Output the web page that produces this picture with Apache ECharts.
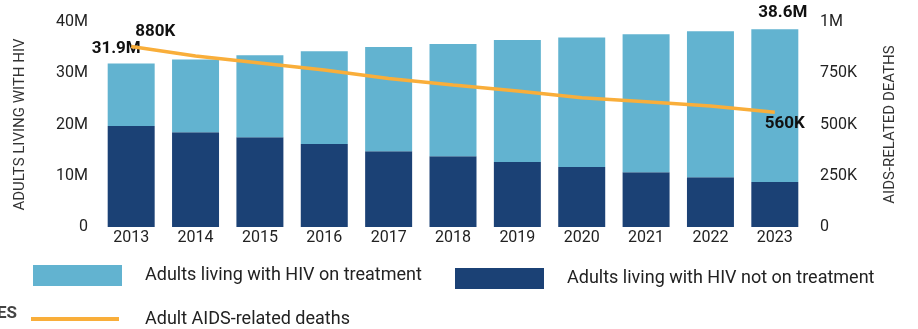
<!DOCTYPE html>
<html>
<head>
<meta charset="utf-8">
<script src="https://cdn.jsdelivr.net/npm/echarts@6/dist/echarts.min.js"></script>
<style>html,body{margin:0;padding:0;background:#fff}#c{width:918px;height:329px}</style>
</head>
<body>
<div id="c"></div>
<script>
const years = ['2013','2014','2015','2016','2017','2018','2019','2020','2021','2022','2023'];
const notOnTreatment = [19.7, 18.5, 17.5, 16.2, 14.8, 13.8, 12.7, 11.7, 10.7, 9.7, 8.8];
const onTreatment = [12.2, 14.2, 16.0, 18.1, 20.3, 21.9, 23.8, 25.3, 26.9, 28.5, 29.8];
const deaths = [880, 834, 800, 766, 724, 693, 663, 631, 611, 590, 560];
const leftTicks = ['0','10M','20M','30M','40M'];
const rightTicks = ['0','250K','500K','750K','1M'];

const FONT = 'Roboto';
const totals = onTreatment.map((v,i)=> +(v + notOnTreatment[i]).toFixed(1));
const last = years.length - 1;

const treatData = onTreatment.map((v,i)=>{
  const d = {value: v};
  if (i === 0) d.label = {show:true, position:'top', offset:[-15,-1], formatter: totals[0] + 'M'};
  if (i === last) d.label = {show:true, position:'top', offset:[8,-3], formatter: totals[last] + 'M'};
  return d;
});
const deathData = deaths.map((v,i)=>{
  const d = {value: v};
  if (i === 0) d.label = {show:true, position:'top', offset:[24,-1], formatter: v + 'K'};
  if (i === last) d.label = {show:true, position:'bottom', offset:[10,-2], formatter: v + 'K'};
  return d;
});

const legendText = {fontFamily: FONT, fontSize: 18, color:'#222'};
const chart = echarts.init(document.getElementById('c'), null, {renderer:'canvas'});
chart.setOption({
  animation: false,
  textStyle: {fontFamily: FONT},
  grid: {left: 99, width: 708, top: 22, height: 205},
  legend: [
    {data:[{name:'Adults living with HIV on treatment', icon:'rect'}], left: 33, top: 265, padding: 0, itemWidth: 89, itemHeight: 21, itemGap: 0,
     textStyle: Object.assign({padding:[0,0,0,18]}, legendText)},
    {data:[{name:'Adults living with HIV not on treatment', icon:'rect'}], left: 455, top: 268, padding: 0, itemWidth: 89, itemHeight: 21, itemGap: 0,
     textStyle: Object.assign({padding:[0,0,0,18]}, legendText)},
    {data:[{name:'Adult AIDS-related deaths', icon:'rect'}], left: 31, top: 310, padding: 0, itemWidth: 88, itemHeight: 4, itemGap: 0,
     textStyle: Object.assign({padding:[0,0,0,21]}, legendText)}
  ],
  graphic: [
    {type:'text', left: -3, top: 305, style:{text:'ES', font:'bold 17px ' + FONT, fill:'#444'}}
  ],
  xAxis: {
    type: 'category', data: years,
    axisLine: {show: false}, axisTick: {show: false},
    axisLabel: {fontSize: 16, color: '#222', margin: 3, fontFamily: FONT}
  },
  yAxis: [
    {type: 'value', min: 0, max: 40, interval: 10, position: 'left',
     name: 'ADULTS LIVING WITH HIV', nameLocation: 'middle', nameGap: 71, nameRotate: 90,
     nameTextStyle: {fontSize: 15, color: '#333', fontFamily: FONT},
     splitLine: {show: false}, axisLine: {show: false}, axisTick: {show: false},
     axisLabel: {fontSize: 16, color: '#222', margin: 11, fontFamily: FONT,
       formatter: (v)=> leftTicks[Math.round(v/10)]}},
    {type: 'value', min: 0, max: 1000, interval: 250, position: 'right',
     name: 'AIDS-RELATED DEATHS', nameLocation: 'middle', nameGap: 76, nameRotate: 90,
     nameTextStyle: {fontSize: 15, color: '#333', fontFamily: FONT},
     splitLine: {show: false}, axisLine: {show: false}, axisTick: {show: false},
     axisLabel: {fontSize: 16, color: '#222', margin: 13, fontFamily: FONT,
       formatter: (v)=> rightTicks[Math.round(v/250)]}}
  ],
  series: [
    {name: 'Adults living with HIV not on treatment', type: 'bar', stack: 'a', data: notOnTreatment,
     barCategoryGap: '27%', itemStyle: {color: '#1B4175'}},
    {name: 'Adults living with HIV on treatment', type: 'bar', stack: 'a', data: treatData,
     barCategoryGap: '27%', itemStyle: {color: '#62B3D0'},
     label: {show: false, fontSize: 17, fontWeight: 'bold', color: '#111', fontFamily: FONT}},
    {name: 'Adult AIDS-related deaths', type: 'line', yAxisIndex: 1, data: deathData,
     symbol: 'circle', symbolSize: 0.01, showSymbol: true,
     lineStyle: {color: '#F9AE3A', width: 3.5}, itemStyle: {color: '#F9AE3A'},
     label: {show: false, fontSize: 17, fontWeight: 'bold', color: '#111', fontFamily: FONT}, z: 5}
  ]
});
</script>
</body>
</html>
